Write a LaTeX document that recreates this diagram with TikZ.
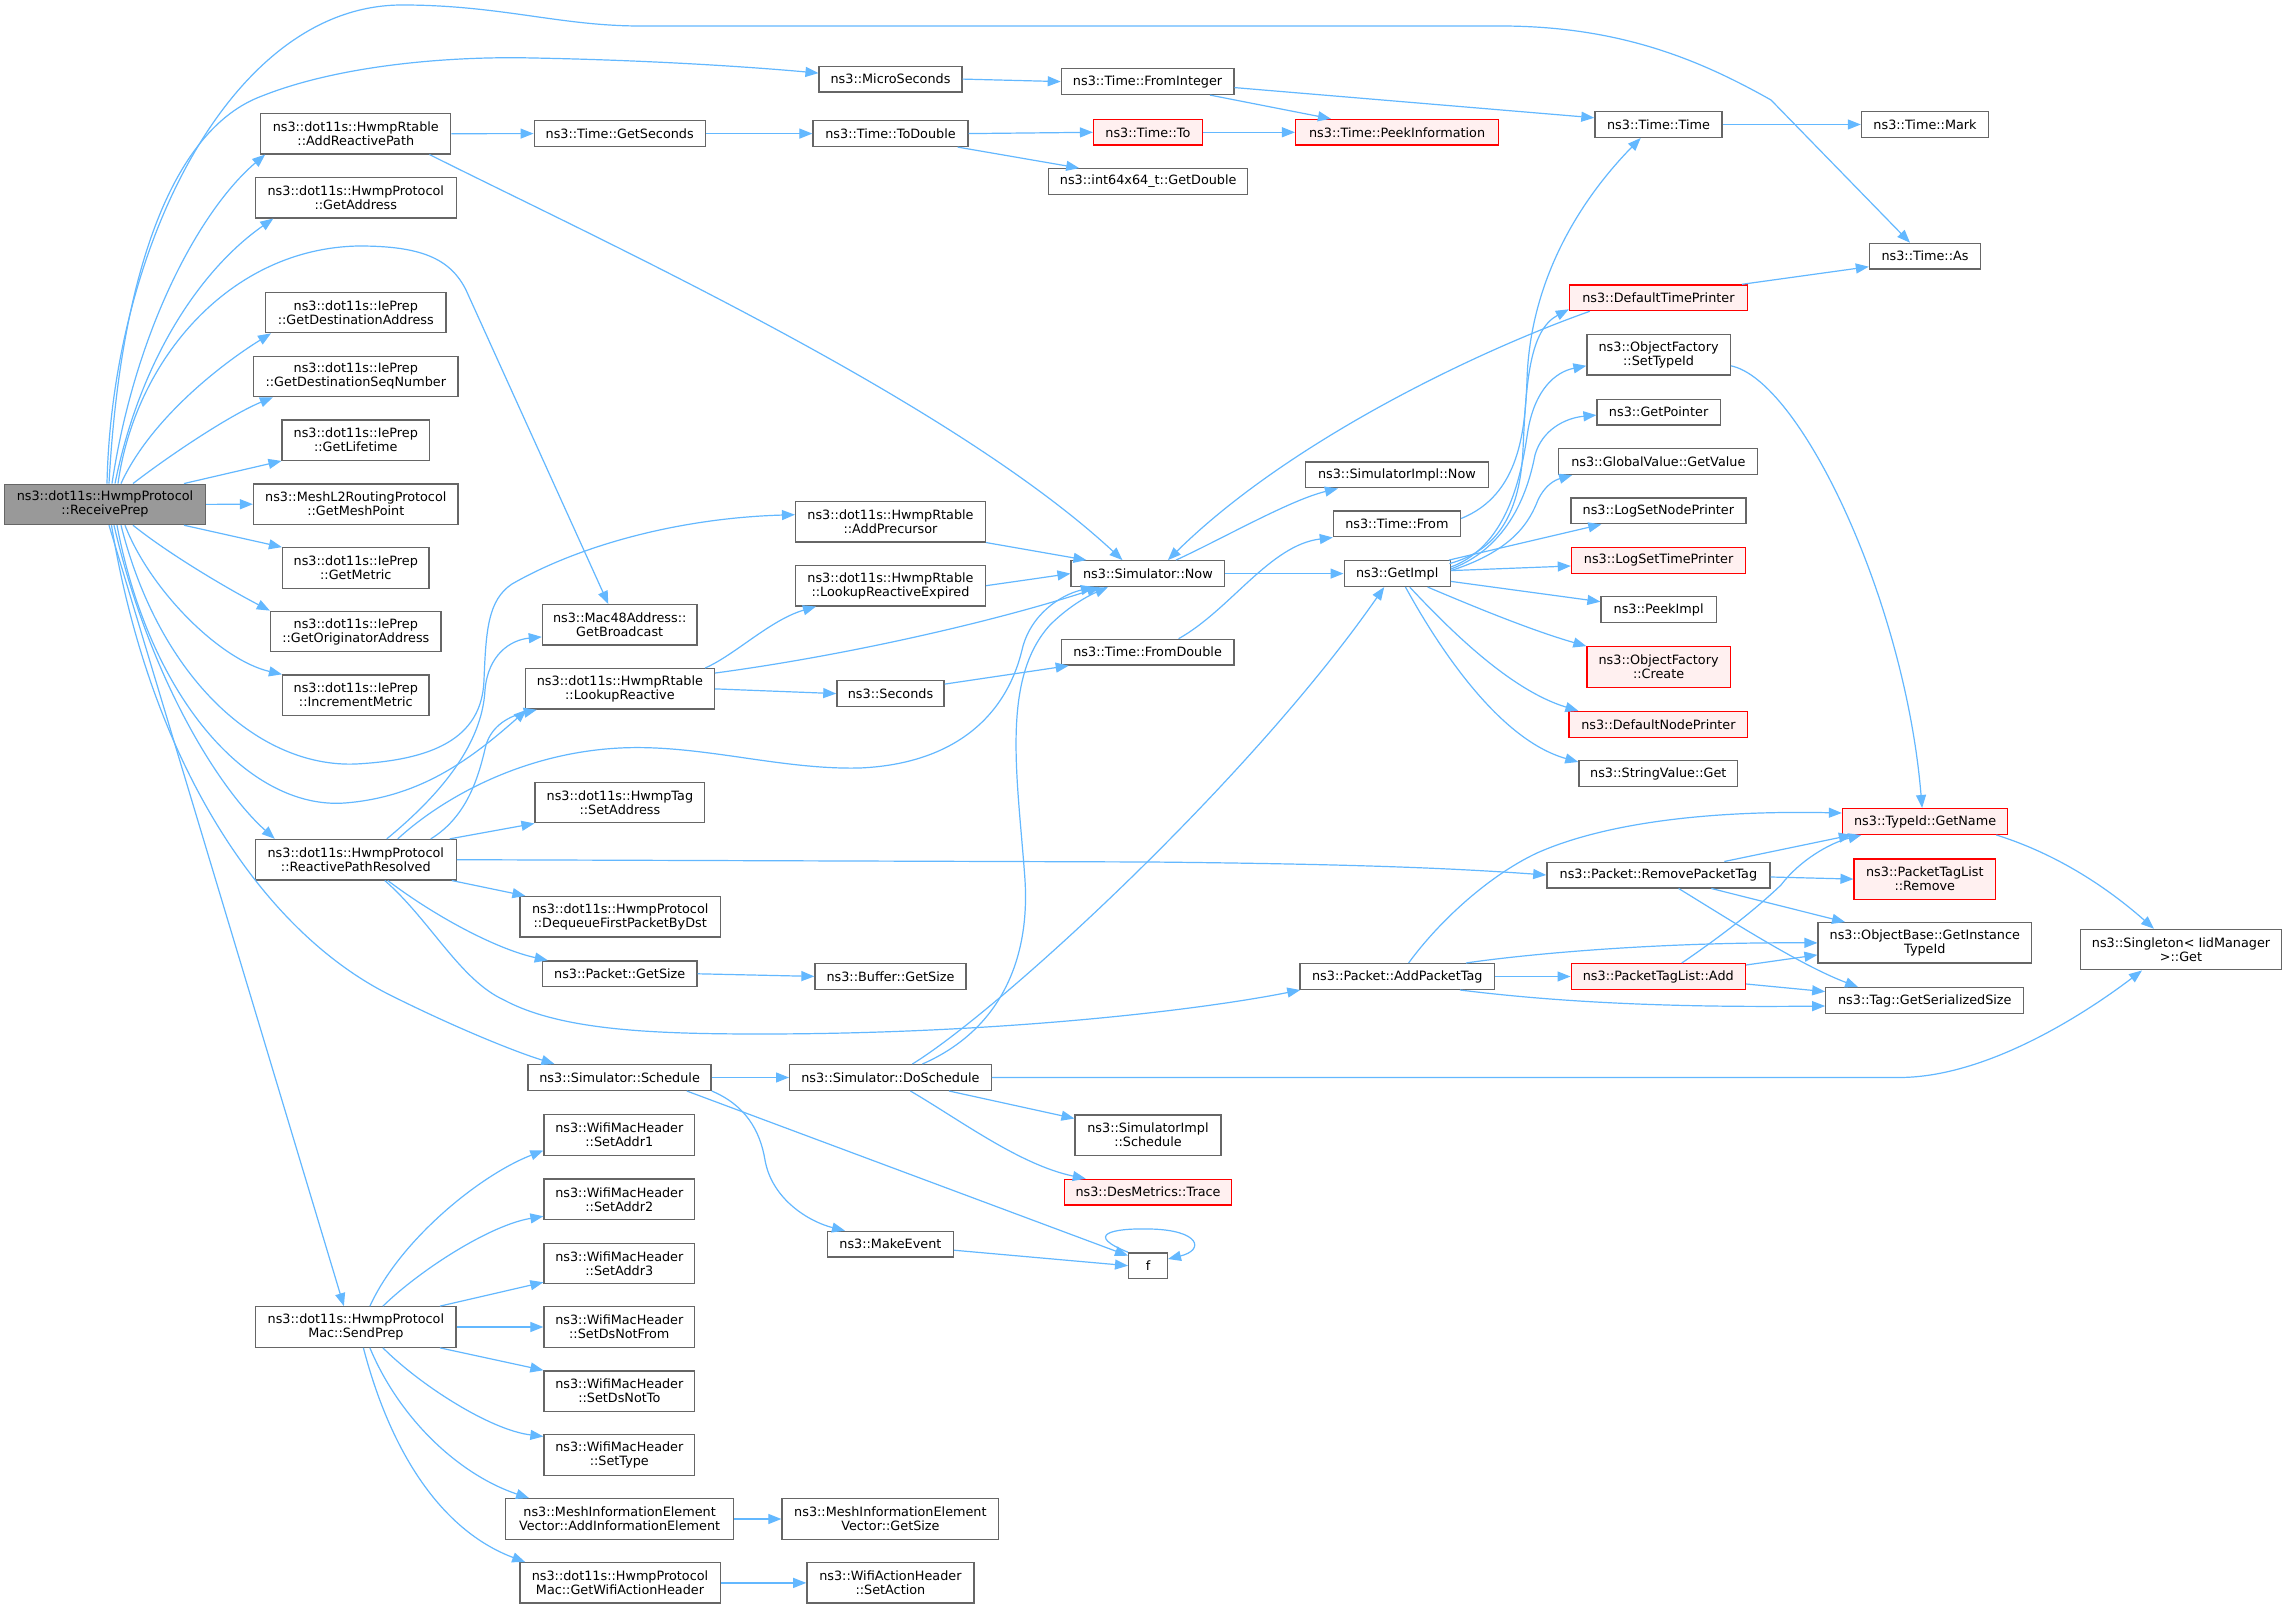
\documentclass[tikz,border=0pt]{standalone}
\usepackage{fontspec}
\setmainfont{DejaVu Sans}
\usetikzlibrary{arrows.meta,calc}
\definecolor{edgec}{HTML}{63B8FF}
\definecolor{bordc}{HTML}{666666}
\definecolor{redb}{HTML}{FF0000}
\definecolor{redf}{HTML}{FFF0F0}
\definecolor{rootf}{HTML}{999999}
\tikzset{
 nd/.style={draw=bordc, line width=0.65pt, fill=white, inner sep=0pt, align=center, font=\fontsize{6.4}{7}\selectfont, text=black},
 one/.style={nd, minimum height=12.85pt},
 two/.style={nd, minimum height=20.2pt},
 bw/.style={minimum width=#1*0.5pt},
 redn/.style={draw=redb, fill=redf},
 rootn/.style={fill=rootf},
 e/.style={draw=edgec, line width=0.6pt, -{Triangle[length=6.5pt,width=5pt]}},
}
\begin{document}
\begin{tikzpicture}[x=0.5pt,y=-0.5pt]
\fill[white] (0,0) rectangle (2288,1609);
\useasboundingbox (0,0) rectangle (2288,1609);
% column 1
\node[two,rootn,bw=201] (RP) at (105,504.4) {ns3::dot11s::HwmpProtocol\\::ReceivePrep};
% column 2
\node[two,bw=190] (ARP) at (355.8,133.7) {ns3::dot11s::HwmpRtable\\::AddReactivePath};
\node[two,bw=200.7] (GA) at (355.8,197.7) {ns3::dot11s::HwmpProtocol\\::GetAddress};
\node[two,bw=180.3] (GDA) at (355.8,312.5) {ns3::dot11s::IePrep\\::GetDestinationAddress};
\node[two,bw=204.5] (GDS) at (355.8,376.4) {ns3::dot11s::IePrep\\::GetDestinationSeqNumber};
\node[two,bw=147.4] (GLT) at (355.8,440.1) {ns3::dot11s::IePrep\\::GetLifetime};
\node[two,bw=204.5] (GMP) at (355.8,504.2) {ns3::MeshL2RoutingProtocol\\::GetMeshPoint};
\node[two,bw=146.4] (GM) at (355.8,568) {ns3::dot11s::IePrep\\::GetMetric};
\node[two,bw=170.6] (GOA) at (355.8,631.5) {ns3::dot11s::IePrep\\::GetOriginatorAddress};
\node[two,bw=146.4] (IM) at (355.8,695.2) {ns3::dot11s::IePrep\\::IncrementMetric};
\node[two,bw=200.7] (RPR) at (355.8,859.7) {ns3::dot11s::HwmpProtocol\\::ReactivePathResolved};
\node[two,bw=200.2] (SP) at (355.9,1327) {ns3::dot11s::HwmpProtocol\\Mac::SendPrep};
% column 3
\node[one,bw=171] (GS) at (619.7,133.6) {ns3::Time::GetSeconds};
\node[two,bw=154.6] (GB) at (619.7,624.9) {ns3::Mac48Address::\\GetBroadcast};
\node[two,bw=189] (LR) at (619.9,688.9) {ns3::dot11s::HwmpRtable\\::LookupReactive};
\node[two,bw=169.6] (STA) at (619.9,802.6) {ns3::dot11s::HwmpTag\\::SetAddress};
\node[two,bw=200.3] (DQ) at (620.2,916.7) {ns3::dot11s::HwmpProtocol\\::DequeueFirstPacketByDst};
\node[one,bw=154.6] (PGS) at (619.7,973.8) {ns3::Packet::GetSize};
\node[one,bw=183] (SCH) at (619.6,1077.5) {ns3::Simulator::Schedule};
\node[two,bw=150.6] (SA1) at (619.3,1135) {ns3::WifiMacHeader\\::SetAddr1};
\node[two,bw=150.6] (SA2) at (619.3,1199.3) {ns3::WifiMacHeader\\::SetAddr2};
\node[two,bw=150.6] (SA3) at (619.3,1263.4) {ns3::WifiMacHeader\\::SetAddr3};
\node[two,bw=150.6] (SDF) at (619.3,1327) {ns3::WifiMacHeader\\::SetDsNotFrom};
\node[two,bw=150.6] (SDT) at (619.3,1391.1) {ns3::WifiMacHeader\\::SetDsNotTo};
\node[two,bw=150.6] (ST) at (619.3,1455) {ns3::WifiMacHeader\\::SetType};
\node[two,bw=227.7] (AIE) at (619.6,1519) {ns3::MeshInformationElement\\Vector::AddInformationElement};
\node[two,bw=200.3] (GWAH) at (620,1582.9) {ns3::dot11s::HwmpProtocol\\Mac::GetWifiActionHeader};
% column 4
\node[one,bw=142.8] (MS) at (890.5,79.1) {ns3::MicroSeconds};
\node[one,bw=155] (TD) at (890.5,133.6) {ns3::Time::ToDouble};
\node[two,bw=189.8] (AP) at (890.5,521.7) {ns3::dot11s::HwmpRtable\\::AddPrecursor};
\node[two,bw=189.8] (LRE) at (890.5,585.7) {ns3::dot11s::HwmpRtable\\::LookupReactiveExpired};
\node[one,bw=107.2] (SEC) at (890.5,693.6) {ns3::Seconds};
\node[one,bw=151] (BGS) at (890.5,976.4) {ns3::Buffer::GetSize};
\node[one,bw=201.5] (DS) at (890.4,1077.5) {ns3::Simulator::DoSchedule};
\node[one,bw=125.5] (ME) at (890.4,1244.2) {ns3::MakeEvent};
\node[two,bw=216.8] (MGS) at (890.4,1519) {ns3::MeshInformationElement\\Vector::GetSize};
\node[two,bw=167.1] (SAC) at (890.4,1582.9) {ns3::WifiActionHeader\\::SetAction};
% column 5
\node[one,bw=172.5] (FI) at (1147.6,81.6) {ns3::Time::FromInteger};
\node[one,redn,bw=108.6] (TT) at (1147.9,132.3) {ns3::Time::To};
\node[one,bw=199] (GD) at (1148.2,181.6) {ns3::int64x64\_t::GetDouble};
\node[one,bw=153.6] (SN) at (1147.9,573.6) {ns3::Simulator::Now};
\node[one,bw=172.5] (FD) at (1147.6,652.2) {ns3::Time::FromDouble};
\node[two,bw=145.8] (SIS) at (1148,1135.2) {ns3::SimulatorImpl\\::Schedule};
\node[one,redn,bw=167.2] (DMT) at (1148,1192.2) {ns3::DesMetrics::Trace};
\node[one,bw=38.7] (F) at (1148,1265.7) {f};
% column 6
\node[one,redn,bw=203] (PI) at (1397.1,132.3) {ns3::Time::PeekInformation};
\node[one,bw=183.2] (SIN) at (1396.9,475) {ns3::SimulatorImpl::Now};
\node[one,bw=127] (TF) at (1396.9,524) {ns3::Time::From};
\node[one,bw=106.1] (GI) at (1397.2,573.6) {ns3::GetImpl};
\node[one,bw=194.8] (APT) at (1397.3,976.5) {ns3::Packet::AddPacketTag};
% column 7
\node[one,bw=127.1] (TTM) at (1658.5,124.5) {ns3::Time::Time};
\node[one,redn,bw=177.9] (DTP) at (1658.4,297.8) {ns3::DefaultTimePrinter};
\node[two,bw=143.2] (OFS) at (1658.6,354.8) {ns3::ObjectFactory\\::SetTypeId};
\node[one,bw=123.1] (GP) at (1658.6,412.1) {ns3::GetPointer};
\node[one,bw=199] (GVG) at (1658.3,461.6) {ns3::GlobalValue::GetValue};
\node[one,bw=174.9] (LSNP) at (1658.4,510.9) {ns3::LogSetNodePrinter};
\node[one,redn,bw=174.4] (LSTP) at (1658.6,560.4) {ns3::LogSetTimePrinter};
\node[one,bw=115.1] (PKI) at (1658.6,609.7) {ns3::PeekImpl};
\node[two,redn,bw=143.2] (OFC) at (1658.6,667) {ns3::ObjectFactory\\::Create};
\node[one,redn,bw=178.7] (DNP) at (1658.4,724.4) {ns3::DefaultNodePrinter};
\node[one,bw=158.8] (SVG) at (1658.3,773.5) {ns3::StringValue::Get};
\node[one,bw=223.1] (RPT) at (1658.4,875) {ns3::Packet::RemovePacketTag};
\node[one,redn,bw=174.3] (PTLA) at (1658.3,976.5) {ns3::PacketTagList::Add};
% column 8
\node[one,bw=127.1] (TM) at (1925,124.5) {ns3::Time::Mark};
\node[one,bw=111.1] (TA) at (1925,256.2) {ns3::Time::As};
\node[one,redn,bw=165.2] (TGN) at (1925.1,821.5) {ns3::TypeId::GetName};
\node[two,redn,bw=141.4] (PTLR) at (1924.8,879.1) {ns3::PacketTagList\\::Remove};
\node[two,bw=213.4] (OBG) at (1924.8,942.9) {ns3::ObjectBase::GetInstance\\TypeId};
\node[one,bw=198] (TGS) at (1924.8,1000.6) {ns3::Tag::GetSerializedSize};
% column 9
\node[two,bw=201.2] (SG) at (2181,949.6) {ns3::Singleton< IidManager\\>::Get};

% ---- edges from ReceivePrep (top)
\draw[e] ($(RP.north)+(2,0)$) .. controls (112,250) and (230,5) .. (402,5) .. controls (500,5) and (560,26) .. (640,26) -- (1500,26) .. controls (1620,26) and (1700,60) .. (1771,100) -- ($(TA.north)+(-15,0)$);
\draw[e] ($(RP.north)+(4,0)$) .. controls (120,280) and (170,130) .. (262,96) .. controls (340,65) and (450,56) .. (533,58) .. controls (640,60) and (740,66) .. ($(MS.west)+(0,-6)$);
\draw[e] ($(RP.north)+(7,0)$) .. controls (135,330) and (200,210) .. ($(ARP.south west)+(5,0)$);
\draw[e] ($(RP.north)+(10,0)$) .. controls (140,360) and (200,270) .. ($(GA.south west)+(18.5,0)$);
\draw[e] ($(RP.north)+(13,0)$) .. controls (135,360) and (230,248) .. (359,246) .. controls (420,246) and (450,258) .. (466,290) -- ($(GB.north)+(-11.4,0)$);
\draw[e] ($(RP.north)+(16,0)$) .. controls (150,420) and (220,365) .. ($(GDA.south west)+(6,0)$);
\draw[e] ($(RP.north)+(28,0)$) .. controls (170,455) and (230,415) .. ($(GDS.south west)+(20,0)$);
\draw[e] ($(RP.north)+(79,0)$) -- (GLT.south west);
\draw[e] (RP.east) -- (GMP.west);
% ---- edges from ReceivePrep (bottom)
\draw[e] ($(RP.south)+(79,0)$) -- (GM.north west);
\draw[e] ($(RP.south)+(28,0)$) .. controls (170,555) and (230,590) .. (GOA.north west);
\draw[e] ($(RP.south)+(20,0)$) .. controls (150,590) and (220,660) .. (IM.north west);
\draw[e] ($(RP.south)+(16,0)$) .. controls (160,680) and (260,768) .. (356,764) .. controls (430,760) and (482,740) .. (484,680) .. controls (486,630) and (488,600) .. (512,584) .. controls (580,545) and (680,518) .. ($(AP.west)+(0,-7)$);
\draw[e] ($(RP.south)+(12,0)$) .. controls (150,700) and (250,810) .. (345,803) .. controls (420,797) and (470,760) .. ($(LR.south west)+(2,0)$);
\draw[e] ($(RP.south)+(9,0)$) .. controls (150,680) and (220,790) .. ($(RPR.north west)+(20,0)$);
\draw[e] ($(RP.south)+(6.5,0)$) .. controls (150,760) and (260,930) .. (390,995) .. controls (450,1025) and (510,1050) .. ($(SCH.north west)+(27,0)$);
\draw[e] ($(RP.south)+(4,0)$) -- ($(SP.north)+(-12,0)$);
% ---- AddReactivePath and time chain
\draw[e] (ARP.east) -- (GS.west);
\draw[e] ($(ARP.south east)+(-22,0)$) .. controls (600,240) and (950,400) .. ($(SN.north west)+(52,0)$);
\draw[e] (GS.east) -- (TD.west);
\draw[e] (TD.east) -- (TT.west);
\draw[e] ($(TD.south east)+(-11,0)$) -- ($(GD.north)+(-69,0)$);
\draw[e] (TT.east) -- (PI.west);
\draw[e] (MS.east) -- (FI.west);
\draw[e] ($(FI.south east)+(-24.5,0)$) -- ($(PI.north west)+(36,0)$);
\draw[e] ($(FI.east)+(0,6)$) -- ($(TTM.west)+(0,-6.7)$);
\draw[e] (TTM.east) -- (TM.west);
\draw[e] ($(DTP.north east)+(-6,0)$) -- ($(TA.south west)+(0,-3)$);
\draw[e] ($(DTP.south west)+(21,0)$) .. controls (1480,350) and (1290,440) .. ($(SN.north)+(20,0)$);
\draw[e] ($(OFS.east)+(0,11)$) .. controls (1800,380) and (1905,600) .. ($(TGN.north)+(-3,0)$);
\draw[e] ($(TGN.south east)+(-12,0)$) .. controls (2060,855) and (2110,890) .. ($(SG.north)+(-27,0)$);
\draw[e] ($(TF.east)+(0,-5.5)$) .. controls (1520,495) and (1525,430) .. (1527,380) .. controls (1530,280) and (1580,200) .. ($(TTM.south)+(-17.8,0)$);
\draw[e] ($(SN.north)+(28,0)$) .. controls (1220,540) and (1290,500) .. ($(SIN.south)+(-59,0)$);
\draw[e] (SN.east) -- (GI.west);
\draw[e] ($(FD.north)+(31,0)$) .. controls (1230,610) and (1270,545) .. (TF.south west);
\draw[e] ($(SEC.north east)+(0,4)$) -- ($(FD.south west)+(8,0)$);
% ---- LookupReactive etc.
\draw[e] (LR.east) -- (SEC.west);
\draw[e] ($(LR.north east)+(-10,0)$) .. controls (735,655) and (770,620) .. ($(LRE.south west)+(21,0)$);
\draw[e] ($(LR.north east)+(0,5)$) .. controls (850,655) and (1000,620) .. ($(SN.south)+(-48,0)$);
\draw[e] (LRE.east) -- (SN.west);
\draw[e] (AP.south east) -- ($(SN.north west)+(16,0)$);
% ---- ReactivePathResolved
\draw[e] ($(RPR.north)+(31,0)$) .. controls (440,795) and (482,745) .. (485,690) .. controls (488,655) and (510,640) .. ($(GB.west)+(0,12)$);
\draw[e] ($(RPR.north)+(42,0)$) .. controls (440,800) and (520,753) .. (620,748) .. controls (700,744) and (780,770) .. (860,768) .. controls (950,764) and (1005,720) .. (1022,650) .. controls (1030,615) and (1060,595) .. ($(SN.south)+(-54,0)$);
\draw[e] ($(RPR.north)+(75,0)$) .. controls (470,815) and (480,770) .. (486,745) .. controls (492,725) and (510,716) .. ($(LR.south west)+(12,0)$);
\draw[e] ($(RPR.north)+(94,0)$) -- (STA.south west);
\draw[e] (RPR.east) -- (1150,862) .. controls (1350,864) and (1450,868) .. (RPT.west);
\draw[e] ($(RPR.south east)+(-5,0)$) -- ($(DQ.north west)+(6,0)$);
\draw[e] ($(RPR.south)+(32,0)$) .. controls (440,920) and (500,950) .. ($(PGS.north west)+(6,0)$);
\draw[e] ($(RPR.south)+(29,0)$) .. controls (430,920) and (460,980) .. (504,1000) .. controls (560,1030) and (650,1034) .. (760,1034) .. controls (1000,1034) and (1200,1010) .. ($(APT.south west)+(1,0)$);
\draw[e] (PGS.east) -- (BGS.west);
% ---- Schedule
\draw[e] (SCH.east) -- (DS.west);
\draw[e] (SCH.south east) .. controls (745,1105) and (760,1130) .. (765,1160) .. controls (772,1200) and (810,1222) .. ($(ME.north west)+(18,0)$);
\draw[e] ($(SCH.south east)+(-25,0)$) -- ($(F.north west)+(0,3.5)$);
\draw[e] (DS.east) -- (1900,1077.5) .. controls (1990,1077) and (2090,1010) .. ($(SG.south)+(-39,0)$);
\draw[e] ($(DS.south)+(58.6,0)$) -- ($(SIS.west)+(0,-16.7)$);
\draw[e] ($(DS.south)+(20,0)$) .. controls (960,1120) and (1020,1165) .. ($(DMT.north west)+(22,0)$);
\draw[e] ($(DS.north)+(22,0)$) .. controls (1000,1010) and (1250,780) .. ($(GI.south)+(-13,0)$);
\draw[e] ($(DS.north)+(32,0)$) .. controls (1000,1030) and (1030,960) .. (1025,880) .. controls (1018,780) and (1000,680) .. (1050,625) .. controls (1070,605) and (1090,595) .. ($(SN.south)+(-40,0)$);
\draw[e] ($(ME.east)+(0,6)$) -- (F.west);
\draw[e] (F.north west) .. controls (1085,1235) and (1110,1228) .. (1150,1229) .. controls (1200,1230) and (1205,1250) .. ($(F.east)+(0,-6.7)$);
% ---- SendPrep
\draw[e] ($(SP.north)+(14,0)$) .. controls (400,1240) and (480,1175) .. ($(SA1.west)+(0,15.5)$);
\draw[e] ($(SP.north)+(27,0)$) .. controls (420,1270) and (490,1225) .. ($(SA2.west)+(0,17)$);
\draw[e] ($(SP.north)+(84,0)$) -- ($(SA3.south west)+(0,-2)$);
\draw[e] (SP.east) -- (SDF.west);
\draw[e] ($(SP.south)+(84,0)$) -- (SDT.north west);
\draw[e] ($(SP.south)+(27,0)$) .. controls (420,1385) and (490,1430) .. ($(ST.north west)+(0,2.3)$);
\draw[e] ($(SP.south)+(14,0)$) .. controls (400,1420) and (460,1475) .. ($(AIE.north west)+(24,0)$);
\draw[e] ($(SP.south)+(7.5,0)$) .. controls (390,1450) and (440,1530) .. ($(GWAH.north west)+(6,0)$);
\draw[e] (AIE.east) -- (MGS.west);
\draw[e] (GWAH.east) -- (SAC.west);
% ---- GetImpl
\draw[e] ($(GI.north east)+(-1.5,3.5)$) .. controls (1500,550) and (1520,510) .. (1523,450) .. controls (1526,380) and (1530,330) .. ($(DTP.south west)+(0,-2)$);
\draw[e] ($(GI.east)+(0,-6.6)$) .. controls (1510,545) and (1522,470) .. (1528,430) .. controls (1535,390) and (1555,372) .. ($(OFS.west)+(0,11)$);
\draw[e] ($(GI.east)+(0,-4.6)$) .. controls (1515,545) and (1530,480) .. (1535,455) .. controls (1542,430) and (1565,418) .. ($(GP.west)+(0,3)$);
\draw[e] ($(GI.east)+(0,-3)$) .. controls (1515,550) and (1530,520) .. (1538,500) .. controls (1545,485) and (1555,480) .. ($(GVG.south west)+(14,0)$);
\draw[e] ($(GI.north east)+(-2,0)$) -- ($(LSNP.south west)+(31,0)$);
\draw[e] ($(GI.east)+(0,-3)$) -- ($(LSTP.west)+(0,5.6)$);
\draw[e] ($(GI.east)+(0,7.8)$) -- ($(PKI.west)+(0,-8)$);
\draw[e] ($(GI.south)+(30.5,0)$) .. controls (1470,605) and (1530,630) .. (OFC.north west);
\draw[e] ($(GI.south)+(12.5,0)$) .. controls (1450,630) and (1510,690) .. ($(DNP.north west)+(10,0)$);
\draw[e] ($(GI.south)+(8.3,0)$) .. controls (1440,650) and (1500,740) .. ($(SVG.north west)+(0,2)$);
% ---- RemovePacketTag
\draw[e] ($(RPT.north east)+(-46.3,0)$) -- ($(TGN.south west)+(10,0)$);
\draw[e] ($(RPT.east)+(0,2)$) -- (PTLR.west);
\draw[e] ($(RPT.south east)+(-59.3,0)$) -- ($(OBG.north west)+(27.6,0)$);
\draw[e] ($(RPT.south)+(20.2,0)$) .. controls (1730,920) and (1800,965) .. ($(TGS.north west)+(33,0)$);
% ---- AddPacketTag
\draw[e] ($(APT.north)+(11.3,0)$) .. controls (1440,920) and (1490,875) .. (1537,853) .. controls (1600,825) and (1700,810) .. ($(TGN.west)+(0,-8.5)$);
\draw[e] ($(APT.north)+(68.7,0)$) .. controls (1520,955) and (1650,942) .. (OBG.west);
\draw[e] (APT.east) -- (PTLA.west);
\draw[e] ($(APT.south)+(62.7,0)$) .. controls (1540,1000) and (1650,1008) .. ($(TGS.west)+(0,5.4)$);
% ---- PacketTagList::Add
\draw[e] ($(PTLA.north)+(23.5,0)$) .. controls (1730,930) and (1760,905) .. (1781,885) .. controls (1800,860) and (1830,843) .. ($(TGN.south west)+(19.5,0)$);
\draw[e] ($(PTLA.north east)+(0,2)$) -- ($(OBG.west)+(0,12)$);
\draw[e] ($(PTLA.east)+(0,7.5)$) -- ($(TGS.west)+(0,-9)$);
\end{tikzpicture}
\end{document}
